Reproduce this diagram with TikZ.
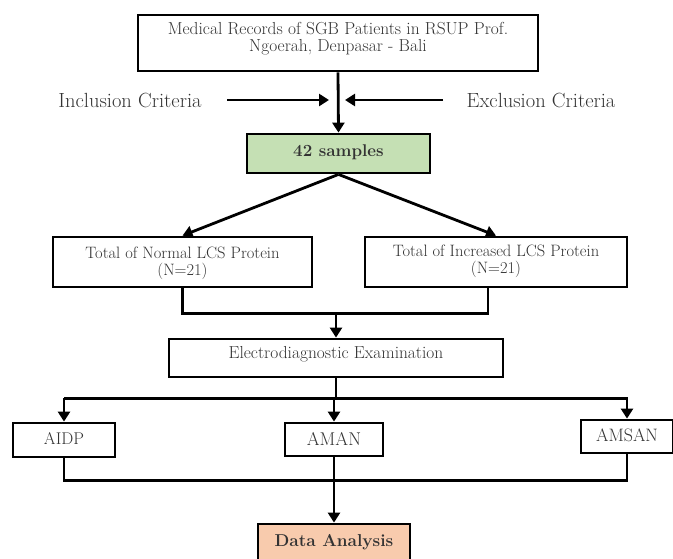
\documentclass[tikz,border=0pt]{standalone}
\usetikzlibrary{arrows.meta,calc}
\definecolor{smpgreen}{HTML}{C5E0B4}
\definecolor{datpeach}{HTML}{F8CBAD}
\newcommand{\fsz}[2]{\fontsize{#1pt}{#2pt}\selectfont}
\newcommand{\lift}[2]{\raisebox{#1}[0pt][0pt]{\begin{tabular}{@{}c@{}}#2\end{tabular}}}
\tikzset{
  box/.style={draw=black,line width=2.8pt,fill=white,align=center,inner sep=0pt,text=black!80},
  gbox/.style={box,fill=smpgreen},
  pbox/.style={box,fill=datpeach},
  ar/.style={-{Triangle[length=10pt,width=12pt]},line width=2.8pt},
  ln/.style={line width=2.8pt},
  crit/.style={font=\fsz{20.5}{22},text=black!80},
}
\begin{document}
\begin{tikzpicture}[x=1pt,y=-1pt]
  \clip (0,0) rectangle (673,558);
  \node[box,minimum width=400pt,minimum height=56pt,font=\fsz{17.4}{16.5}] (rec) at (338,43) {\lift{-1pt}{Medical Records of SGB Patients in RSUP Prof.\\Ngoerah, Denpasar - Bali}};
  \node[crit] (inc) at (130,100) {Inclusion Criteria};
  \node[crit] (exc) at (541,100) {Exclusion Criteria};
  \coordinate (incA) at (227,100); \coordinate (incB) at (329,100);
  \coordinate (excA) at (443,100); \coordinate (excB) at (345,100);
  \node[gbox,minimum width=183pt,minimum height=39pt,font=\bfseries\fsz{17}{18}] (smp) at (338.5,153.5) {\lift{-3.5pt}{42 samples}};
  \node[box,minimum width=259pt,minimum height=50pt,font=\fsz{16.5}{16.5}] (nrm) at (182.5,262) {\lift{-6pt}{Total of Normal LCS Protein\\(N=21)}};
  \node[box,minimum width=262pt,minimum height=50pt,font=\fsz{16.5}{15.5}] (icr) at (496,262) {\lift{-4pt}{Total of Increased LCS Protein\\(N=21)}};
  \node[box,minimum width=334pt,minimum height=38pt,font=\fsz{17.4}{18}] (elx) at (336,358) {\lift{-1.5pt}{Electrodiagnostic Examination}};
  \node[box,minimum width=102pt,minimum height=34pt,font=\fsz{17}{18}] (aidp) at (64,440) {\lift{-5pt}{AIDP}};
  \node[box,minimum width=98pt,minimum height=33pt,font=\fsz{18.5}{18}] (aman) at (334,439.5) {\lift{-6pt}{AMAN}};
  \node[box,minimum width=92pt,minimum height=33pt,font=\fsz{18}{18}] (amsan) at (627,436.5) {\lift{-6pt}{AMSAN}};
  \node[pbox,minimum width=152pt,minimum height=46pt,font=\bfseries\fsz{17.2}{18}] (dat) at (334,547) {\lift{-0.5pt}{Data Analysis}};
  \draw[ar] (rec.south) -- (smp.north);
  \draw[ar] (incA) -- (incB);
  \draw[ar] (excA) -- (excB);
  \draw[ar] (smp.south) -- (nrm.north);
  \draw[ar] (smp.south) -- (icr.north);
  \coordinate (brL) at ($(nrm.south)+(0,25)$);
  \coordinate (brR) at ($(icr.south)+(-8,25)$);
  \coordinate (brM) at (brL -| elx.north);
  \draw[ln] (nrm.south) -- (brL) -- (brR) -- ($(icr.south)+(-8,0)$);
  \draw[ar] (brM) -- (elx.north);
  \coordinate (spM) at ($(elx.south)+(0,20)$);
  \draw[ln] (elx.south) -- (spM);
  \draw[ar] (spM -| aidp.north) -- (spM -| amsan.north) -- (amsan.north);
  \draw[ar] (spM -| aidp.north) -- (aidp.north);
  \draw[ar] (spM -| aman.north) -- (aman.north);
  \coordinate (jnM) at ($(aman.south)+(0,23)$);
  \draw[ln] (aidp.south) -- (aidp.south |- jnM) -- (amsan.south |- jnM) -- (amsan.south);
  \draw[ar] (aman.south) -- (dat.north);
\end{tikzpicture}
\end{document}
